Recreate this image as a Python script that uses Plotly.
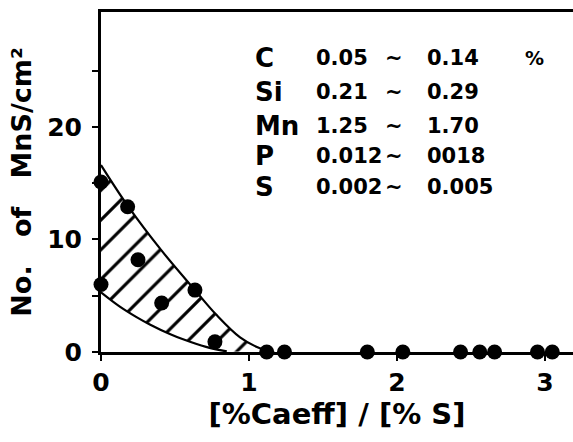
import plotly.graph_objects as go

# Measured points
pt_x = [0.0, 0.0, 0.18, 0.25, 0.41, 0.635, 0.77, 1.12, 1.24, 1.80, 2.04, 2.43, 2.56, 2.66, 2.95, 3.05]
pt_y = [15.1, 6.0, 12.9, 8.2, 4.35, 5.5, 0.9, 0.0, 0.0, 0.0, 0.0, 0.0, 0.0, 0.0, 0.0, 0.0]

# Upper boundary curve of the hatched band
upper_x = [0.0, 0.18, 0.41, 0.635, 0.78, 0.94, 1.07, 1.17]
upper_y = [16.6, 13.0, 9.0, 5.5, 3.3, 1.3, 0.35, 0.0]

# Lower boundary curve of the hatched band
lower_x = [0.0, 0.12, 0.24, 0.33, 0.465, 0.55, 0.71, 0.85]
lower_y = [5.3, 4.1, 3.1, 2.45, 1.6, 1.15, 0.45, 0.05]

# Composition table
elements = ["C", "Si", "Mn", "P", "S"]
low_vals = ["0.05", "0.21", "1.25", "0.012", "0.002"]
high_vals = ["0.14", "0.29", "1.70", "0018", "0.005"]
row_y = [26.1, 23.1, 20.1, 17.4, 14.7]

x_ticks = [0, 1, 2, 3]
y_tickvals = [0, 5, 10, 15, 20, 25]
y_ticktext = ["0", "", "10", "", "20", ""]

FONT = "DejaVu Sans"

fig = go.Figure()
fig.add_trace(go.Scatter(
    x=lower_x, y=lower_y, mode="lines", line=dict(color="black", width=2.2, shape="spline", smoothing=1.0),
    hoverinfo="skip", showlegend=False, cliponaxis=False))
fig.add_trace(go.Scatter(
    x=upper_x, y=upper_y, mode="lines", line=dict(color="black", width=2.2, shape="spline", smoothing=1.0),
    fill="tonexty", fillcolor="white",
    fillpattern=dict(shape="/", fgcolor="black", bgcolor="white", fgopacity=1, fillmode="replace",
                     size=21, solidity=0.15),
    hoverinfo="skip", showlegend=False, cliponaxis=False))
fig.add_trace(go.Scatter(
    x=pt_x, y=pt_y, mode="markers", marker=dict(color="black", size=15),
    hoverinfo="skip", showlegend=False, cliponaxis=False))

for el, lo, hi, yy in zip(elements, low_vals, high_vals, row_y):
    fig.add_annotation(x=1.03, y=yy, text=el, showarrow=False, xanchor="left", yanchor="middle",
                       font=dict(family=FONT, size=26, color="black", weight="bold"))
    fig.add_annotation(x=1.44, y=yy, text=lo, showarrow=False, xanchor="left", yanchor="middle",
                       font=dict(family=FONT, size=21, color="black", weight="bold"))
    fig.add_annotation(x=1.98, y=yy, text="~", showarrow=False, xanchor="center", yanchor="middle",
                       font=dict(family=FONT, size=21, color="black", weight="bold"))
    fig.add_annotation(x=2.19, y=yy, text=hi, showarrow=False, xanchor="left", yanchor="middle",
                       font=dict(family=FONT, size=21, color="black", weight="bold"))
fig.add_annotation(x=2.85, y=row_y[0], text="%", showarrow=False, xanchor="left", yanchor="middle",
                   font=dict(family=FONT, size=19, color="black", weight="bold"))

fig.update_layout(
    width=573, height=442,
    margin=dict(l=101, r=0, t=12, b=90),
    paper_bgcolor="white", plot_bgcolor="white",
    font=dict(family=FONT, color="black", weight="bold"),
    xaxis=dict(range=[0, 3.19], tickvals=x_ticks, showgrid=False, zeroline=False, automargin=False,
               showline=True, linecolor="black", linewidth=3, mirror=True,
               ticks="outside", ticklen=6, tickwidth=2, tickcolor="black",
               tickfont=dict(family=FONT, size=25, weight="bold"),
               title=dict(text="[%Caeff] / [% S]", font=dict(family=FONT, size=29, weight="bold"), standoff=4)),
    yaxis=dict(range=[0, 30.2], tickvals=y_tickvals, ticktext=y_ticktext, showgrid=False, zeroline=False,
               automargin=False,
               showline=True, linecolor="black", linewidth=3,
               ticks="outside", ticklen=6, tickwidth=2, tickcolor="black", ticklabelstandoff=5,
               tickfont=dict(family=FONT, size=25, weight="bold"),
               title=dict(text="No.   of   MnS/cm²", font=dict(family=FONT, size=27, weight="bold"), standoff=8)),
)

fig.write_html("out.html", config={"displayModeBar": False},
               post_script="document.body.style.margin='0';document.body.style.padding='0';")
